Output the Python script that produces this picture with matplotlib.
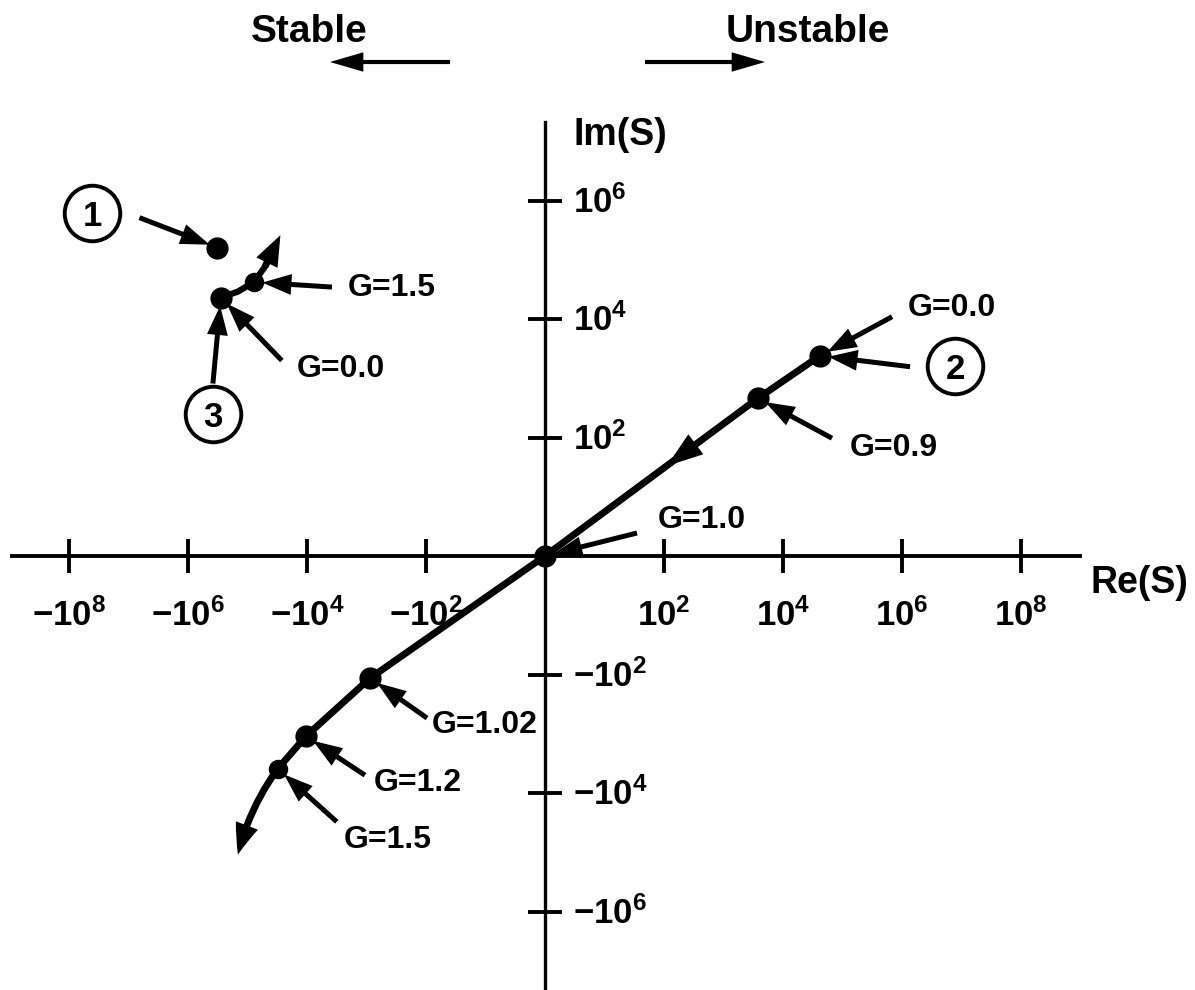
import numpy as np
import matplotlib
matplotlib.use('Agg')
import matplotlib.pyplot as plt
import matplotlib.transforms as mtransforms
from matplotlib.ticker import NullLocator

plt.rcParams['font.family'] = 'Liberation Sans'
plt.rcParams['font.weight'] = 'bold'
plt.rcParams['mathtext.fontset'] = 'custom'
plt.rcParams['mathtext.rm'] = 'Liberation Sans:bold'
plt.rcParams['mathtext.it'] = 'Liberation Sans:bold'
plt.rcParams['mathtext.bf'] = 'Liberation Sans:bold'

# root locus in the s-plane: main branch from pole 2 through the origin
main_re = [4.2e4, 3.8e3, 0, -870, -1.04e4, -3.1e4, -1.45e5]
main_im = [2.4e3, 4.6e2, 0, -115, -1.1e3, -3.9e3, -1.1e5]
# branch leaving pole 3
upper_re = [-2.8e5, -1.45e5, -7.8e4, -5.1e4, -2.8e4]
upper_im = [2.3e4, 2.9e4, 4.2e4, 7.6e4, 2.6e5]
# fixed pole 1
pole_re = -3.2e5
pole_im = 1.6e5

# gain markers on the branches
gain_labels = ['G=0.0', 'G=0.9', 'G=1.0', 'G=1.02', 'G=1.2', 'G=1.5', 'G=0.0', 'G=1.5']
gain_re = [4.2e4, 3.8e3, 0, -870, -1.04e4, -3.1e4, -2.8e5, -7.8e4]
gain_im = [2.4e3, 4.6e2, 0, -115, -1.1e3, -3.9e3, 2.3e4, 4.2e4]

# direction arrow on the main branch (tail, head)
dir_re = [359, 112]
dir_im = [95, 76]

tick_exp = [2, 4, 6, 8]

# where labels sit relative to their point, in pixels (text, arrow start)
gain_text = [(132, 48), (136, -50), (157, 36), (115, -47), (112, -47), (110, -71), (120, -71), (138, -6)]
gain_arrow = [(72, 39), (74, -40), (92, 23), (57, -40), (59, -39), (59, -53), (61, -63), (78, -5)]
gain_size = [15, 15, 15, 15, 15, 13, 15, 13]

FS = 23
PX_X = 59.5   # pixels per decade
PX_Y = 59.25


def undec(d):
    # position in decades -> value on the symlog axis (linthresh 100)
    d = np.asarray(d, float)
    return np.where(np.abs(d) < 2, 50 * d, np.sign(d) * 10 ** np.abs(d))


fig = plt.figure(figsize=(11.95, 9.9), dpi=100)
ax = fig.add_axes([0, 0, 1, 1])
ax.set_xscale('symlog', linthresh=100, linscale=1.8)
ax.set_yscale('symlog', linthresh=100, linscale=1.8)
ax.set_xlim(undec(-545 / PX_X), undec(650 / PX_X))
ax.set_ylim(undec(-434 / PX_Y), undec(556 / PX_Y))

for s in ['top', 'right']:
    ax.spines[s].set_visible(False)
ax.spines['left'].set_position(('data', 0))
ax.spines['bottom'].set_position(('data', 0))
ax.spines['bottom'].set_bounds(undec(-533 / PX_X), undec(535 / PX_X))
ax.spines['left'].set_bounds(undec(-7.6), undec(434 / PX_Y))
ax.spines['bottom'].set_linewidth(2.8)
ax.spines['left'].set_linewidth(2.4)

ticks = [-10.0 ** e for e in tick_exp[::-1]] + [10.0 ** e for e in tick_exp]
ax.set_xticks(ticks)
ax.set_yticks([t for t in ticks if abs(t) < 1e7])
ax.set_xticklabels([])
ax.set_yticklabels([])
ax.xaxis.set_minor_locator(NullLocator())
ax.yaxis.set_minor_locator(NullLocator())
ax.tick_params(direction='inout', length=24, width=2.8)

TICK_FS = 25
for e in tick_exp:
    for sgn, pre in [(-1, '-'), (1, '')]:
        ax.annotate(r'$%s10^{%d}$' % (pre, e), xy=(sgn * 10.0 ** e, 0), xytext=(0, -42),
                    textcoords='offset pixels', ha='center', va='top', fontsize=TICK_FS, zorder=2)
        if e < 8:
            ax.annotate(r'$%s10^{%d}$' % (pre, e), xy=(0, sgn * 10.0 ** e), xytext=(28, -12),
                        textcoords='offset pixels', ha='left', va='baseline', fontsize=TICK_FS,
                        zorder=2)

LOCUS_LW = 5
ax.plot(main_re[:-1], main_im[:-1], color='black', lw=LOCUS_LW, zorder=4,
        solid_capstyle='round', solid_joinstyle='round')
ax.plot(upper_re[:-1], upper_im[:-1], color='black', lw=4.5, zorder=4,
        solid_capstyle='round', solid_joinstyle='round')

# branch ends: bent arrow from the last marked gain out to the end of the locus
tip_style = 'simple,head_length=1.1,head_width=0.85,tail_width=0.25'
ax.annotate('', xy=(main_re[-1], main_im[-1]), xytext=(main_re[-2], main_im[-2]),
            arrowprops=dict(arrowstyle=tip_style, mutation_scale=20, fc='black', lw=0,
                            shrinkA=0, shrinkB=0, connectionstyle='arc3,rad=0.1'), zorder=4)
ax.annotate('', xy=(upper_re[-1], upper_im[-1]), xytext=(upper_re[-2], upper_im[-2]),
            arrowprops=dict(arrowstyle=tip_style, mutation_scale=20, fc='black', lw=0,
                            shrinkA=0, shrinkB=0), zorder=4)
ax.annotate('', xy=(dir_re[1], dir_im[1]), xytext=(dir_re[0], dir_im[0]),
            arrowprops=dict(arrowstyle='simple,head_length=1.3,head_width=0.9,tail_width=0.1',
                            mutation_scale=20, fc='black', lw=0, shrinkA=0, shrinkB=0), zorder=4)

for x, y, ms in zip(gain_re, gain_im, gain_size):
    ax.plot(x, y, 'o', ms=ms, color='black', zorder=5)
ax.plot(pole_re, pole_im, 'o', ms=15, color='black', zorder=5)

ptr_style = 'simple,head_length=1.05,head_width=0.75,tail_width=0.18'


def pointer(x, y, start, shrink=6):
    ax.annotate('', xy=(x, y), xytext=start, textcoords='offset pixels',
                arrowprops=dict(arrowstyle=ptr_style, mutation_scale=20, fc='black', lw=0,
                                shrinkA=0, shrinkB=shrink), zorder=3)


for lab, x, y, toff, aoff in zip(gain_labels, gain_re, gain_im, gain_text, gain_arrow):
    ax.annotate(lab, xy=(x, y), xytext=toff, textcoords='offset pixels',
                ha='center', va='center', fontsize=FS)
    pointer(x, y, aoff)

# circled pole numbers
circled = [('1', pole_re, pole_im, (-125, 35), (-78, 30)),
           ('2', gain_re[0], gain_im[0], (135, -10), (90, -11)),
           ('3', gain_re[6], gain_im[6], (-8, -116), (-8, -86))]
for num, x, y, toff, aoff in circled:
    tr = mtransforms.offset_copy(ax.transData, fig, x=toff[0], y=toff[1], units='dots')
    ax.plot(x, y, 'o', ms=40, mfc='white', mec='black', mew=2.8, transform=tr, zorder=3)
    ax.annotate(num, xy=(x, y), xytext=toff, textcoords='offset pixels',
                ha='center', va='center_baseline', fontsize=25, zorder=4)
    pointer(x, y, aoff)

H = 990.0
W = 1195.0
fig.text(309 / W, 1 - 32 / H, 'Stable', ha='center', va='center', fontsize=28)
fig.text(808 / W, 1 - 32 / H, 'Unstable', ha='center', va='center', fontsize=28)
side_style = 'simple,head_length=1.2,head_width=0.7,tail_width=0.15'
ax.annotate('', xy=(330, H - 62), xycoords='figure pixels', xytext=(450, H - 62),
            textcoords='figure pixels',
            arrowprops=dict(arrowstyle=side_style, mutation_scale=20, fc='black', lw=0,
                            shrinkA=0, shrinkB=0))
ax.annotate('', xy=(765, H - 62), xycoords='figure pixels', xytext=(645, H - 62),
            textcoords='figure pixels',
            arrowprops=dict(arrowstyle=side_style, mutation_scale=20, fc='black', lw=0,
                            shrinkA=0, shrinkB=0))
fig.text(573 / W, 1 - 135 / H, 'Im(S)', ha='left', va='center', fontsize=27)
fig.text(1139 / W, 1 - 583 / H, 'Re(S)', ha='center', va='center', fontsize=27)

fig.savefig('out.png', dpi=100, facecolor='white')
